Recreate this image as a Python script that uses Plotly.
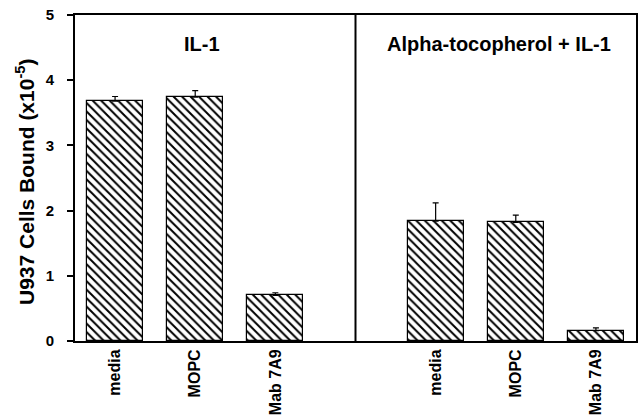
import plotly.graph_objects as go

categories = ["media", "MOPC", "Mab 7A9"]
il1_values = [3.68, 3.74, 0.70]
il1_errors = [0.07, 0.10, 0.04]
toco_values = [1.84, 1.82, 0.16]
toco_errors = [0.28, 0.11, 0.04]
panel_titles = ["IL-1", "Alpha-tocopherol + IL-1"]
y_ticks = [0, 1, 2, 3, 4, 5]

FONT = "Liberation Sans, Arial, sans-serif"

x_left = [0, 1, 2]
x_right = [4, 5, 6]

fig = go.Figure()
for xs, vals, errs in [(x_left, il1_values, il1_errors), (x_right, toco_values, toco_errors)]:
    fig.add_trace(go.Bar(
        x=xs, y=vals, width=0.7,
        marker=dict(color="white",
                    line=dict(color="black", width=1.2),
                    pattern=dict(shape="\\", fgcolor="black", bgcolor="white",
                                 size=6, solidity=0.33, fillmode="replace")),
        error_y=dict(type="data", array=errs, arrayminus=[0] * len(errs),
                     symmetric=False, color="black", thickness=1.2, width=3),
        showlegend=False,
    ))

fig.add_shape(type="line", xref="x", yref="y", x0=3, x1=3, y0=0, y1=5,
              line=dict(color="black", width=2))

fig.add_annotation(text=panel_titles[0], xref="x", yref="paper", x=1.09, y=1, yshift=-16,
                   showarrow=False, font=dict(family=FONT, size=20, weight="bold", color="black"))
fig.add_annotation(text=panel_titles[1], xref="x", yref="paper", x=4.79, y=1, yshift=-16,
                   showarrow=False, font=dict(family=FONT, size=20, weight="bold", color="black"))

fig.add_annotation(text="U937 Cells Bound (x10<sup>-5</sup>)", xref="paper", yref="paper",
                   x=0, y=0.5, xshift=-50, yshift=-4, textangle=-90, showarrow=False,
                   xanchor="center", yanchor="middle",
                   font=dict(family=FONT, size=21, weight="bold", color="black"))

fig.update_xaxes(range=[-0.5, 6.5], tickvals=x_left + x_right, ticktext=categories + categories,
                 tickangle=-90, ticks="", showline=True, linecolor="black", linewidth=2,
                 mirror=True, showgrid=False, zeroline=False, automargin=False,
                 tickfont=dict(family=FONT, size=16, weight="bold", color="black"))
fig.update_yaxes(range=[0, 5], tickvals=y_ticks, ticks="outside", ticklen=6, tickwidth=1.5,
                 tickcolor="black", showline=True, linecolor="black", linewidth=2,
                 mirror=True, showgrid=False, zeroline=False, ticklabelstandoff=10,
                 automargin=False,
                 tickfont=dict(family=FONT, size=15, weight="bold", color="black"))

fig.update_layout(width=643, height=417, margin=dict(l=75, r=7, t=15, b=76),
                  plot_bgcolor="white", paper_bgcolor="white", bargap=0)

fig.write_html("out.html")
